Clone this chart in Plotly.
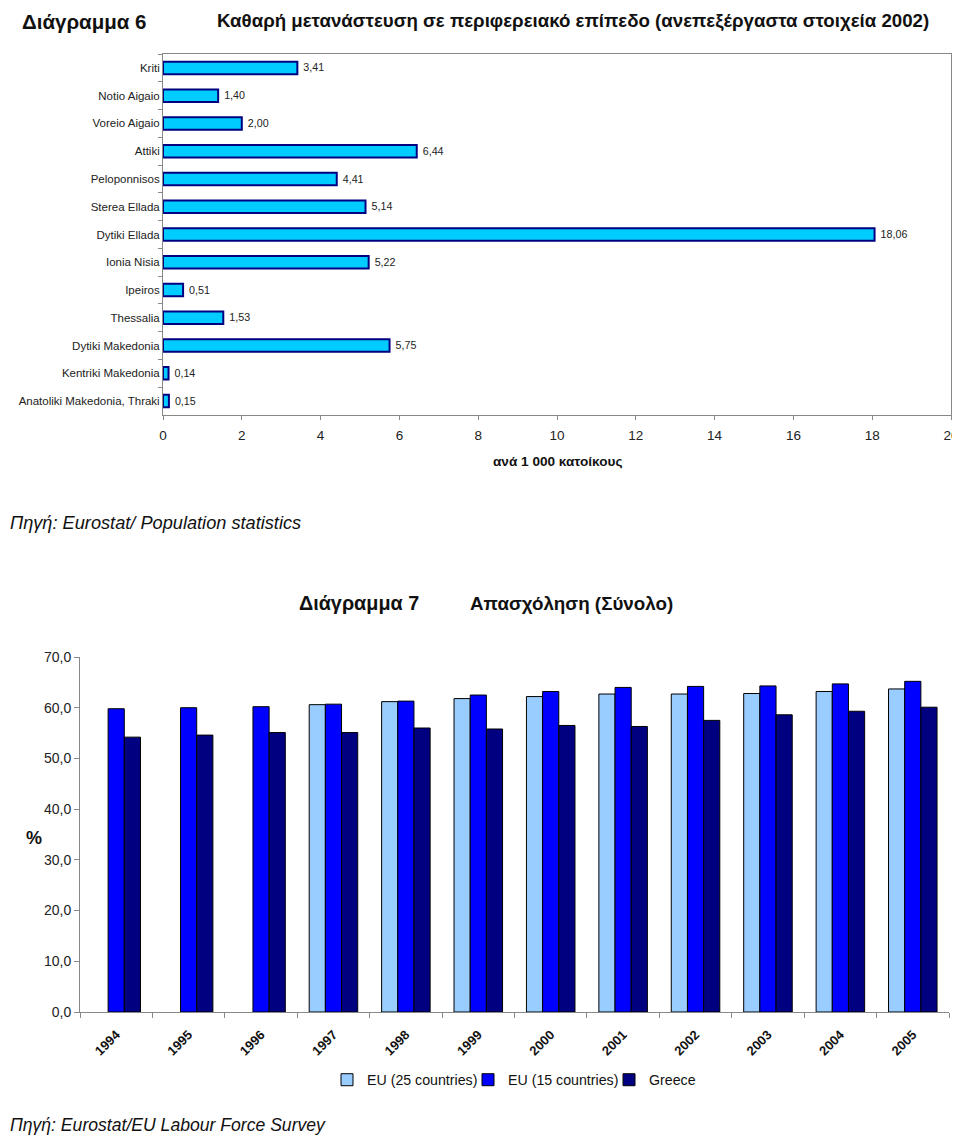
import plotly.graph_objects as go

# ---- Chart 6 data ----
regions = ["Kriti", "Notio Aigaio", "Voreio Aigaio", "Attiki", "Peloponnisos",
           "Sterea Ellada", "Dytiki Ellada", "Ionia Nisia", "Ipeiros", "Thessalia",
           "Dytiki Makedonia", "Kentriki Makedonia", "Anatoliki Makedonia, Thraki"]
migration = [3.41, 1.40, 2.00, 6.44, 4.41, 5.14, 18.06, 5.22, 0.51, 1.53, 5.75, 0.14, 0.15]

# ---- Chart 7 data ----
years = ["1994", "1995", "1996", "1997", "1998", "1999", "2000", "2001", "2002", "2003", "2004", "2005"]
eu25 = [None, None, None, 60.6, 61.2, 61.8, 62.2, 62.7, 62.7, 62.8, 63.2, 63.7]
eu15 = [59.8, 60.0, 60.2, 60.7, 61.3, 62.5, 63.2, 64.0, 64.2, 64.3, 64.7, 65.2]
greece = [54.2, 54.6, 55.1, 55.1, 56.0, 55.8, 56.5, 56.3, 57.5, 58.6, 59.3, 60.1]

OFF = 8  # page body margin
W, H = 960 - OFF, 1145 - 2 * OFF
def px(x): return (x - OFF) / W
def py(y): return 1 - (y - OFF) / H

ARIAL = "Liberation Sans, Arial, sans-serif"

fig = go.Figure()

fig.add_trace(go.Bar(
    x=migration, y=regions, orientation="h", width=0.45,
    marker=dict(color="#00CCFF", line=dict(color="#000080", width=2)),
    text=migration, texttemplate="\u00a0%{x:.2f}", textposition="outside",
    textfont=dict(family=ARIAL, size=12, color="#222"),
    cliponaxis=False, showlegend=False,
    xaxis="x", yaxis="y"))

fig.add_trace(go.Bar(x=years, y=eu25, name="EU (25 countries)",
                     marker=dict(color="#99CCFF", line=dict(color="#000", width=1)),
                     xaxis="x2", yaxis="y2"))
fig.add_trace(go.Bar(x=years, y=eu15, name="EU (15 countries)",
                     marker=dict(color="#0000FF", line=dict(color="#000", width=1)),
                     xaxis="x2", yaxis="y2"))
fig.add_trace(go.Bar(x=years, y=greece, name="Greece",
                     marker=dict(color="#000080", line=dict(color="#000", width=1)),
                     xaxis="x2", yaxis="y2"))

fig.update_layout(
    width=W, height=H, margin=dict(l=0, r=0, t=0, b=0, autoexpand=False),
    paper_bgcolor="white", plot_bgcolor="white",
    separators=", ",
    barmode="group", bargap=0.33, bargroupgap=0,
    font=dict(family=ARIAL, color="#222"),
    xaxis=dict(domain=[px(163), px(951)], range=[0, 20], dtick=2, tick0=0,
               showgrid=False, zeroline=False, showline=True, linecolor="#888",
               mirror=True, ticks="outside", ticklen=4, tickcolor="#888",
               automargin=False, ticklabelstandoff=4, ticklabeloverflow="allow",
               tickfont=dict(family=ARIAL, size=13.5, color="#222"), anchor="y"),
    yaxis=dict(domain=[py(415), py(54)], autorange="reversed", type="category",
               showgrid=False, showline=True, linecolor="#888", mirror=True,
               ticks="outside", ticklen=4, tickcolor="#888", tickson="boundaries",
               automargin=False,
               tickfont=dict(family=ARIAL, size=11.5, color="#222"), anchor="x"),
    xaxis2=dict(domain=[px(80), px(949)], type="category", showgrid=False,
                showline=True, linecolor="#888", ticks="outside", ticklen=5,
                tickcolor="#888", tickson="boundaries", tickangle=-45,
                automargin=False, ticklabelstandoff=9,
                tickfont=dict(family=ARIAL, size=13, color="#111", weight="bold"),
                anchor="y2"),
    yaxis2=dict(domain=[py(1012), py(657)], range=[0, 70], dtick=10,
                tickformat=".1f", showgrid=False, zeroline=False, showline=True,
                linecolor="#888", ticks="outside", ticklen=5, tickcolor="#888",
                automargin=False,
                tickfont=dict(family=ARIAL, size=14, color="#222"), anchor="x2"),
    legend=dict(orientation="h", x=px(327), y=py(1080), xanchor="left", yanchor="middle",
                font=dict(family=ARIAL, size=14.2, color="#111"), traceorder="normal",
                itemwidth=30, entrywidth=96, bgcolor="rgba(0,0,0,0)"),
)

annos = [
    dict(text="<b>Διάγραμμα 6</b>", x=px(20), y=1, yanchor="top", xanchor="left",
         font=dict(family=ARIAL, size=20.5, color="#111")),
    dict(text="<b>Καθαρή μετανάστευση σε περιφερειακό επίπεδο (ανεπεξέργαστα στοιχεία 2002)</b>",
         x=px(215), y=1, yanchor="top", xanchor="left",
         font=dict(family=ARIAL, size=18.7, color="#111")),
    dict(text="<b>ανά 1 000 κατοίκους</b>", x=px(558), y=py(462), xanchor="center",
         font=dict(family=ARIAL, size=13.6, color="#111")),
    dict(text="<i>Πηγή: Eurostat/ Population statistics</i>", x=px(8), y=py(523), xanchor="left",
         font=dict(family=ARIAL, size=18.2, color="#111")),
    dict(text="<b>Διάγραμμα 7</b>", x=px(297), y=py(603), xanchor="left",
         font=dict(family=ARIAL, size=19.8, color="#111")),
    dict(text="<b>Απασχόληση (Σύνολο)</b>", x=px(468), y=py(603), xanchor="left",
         font=dict(family=ARIAL, size=18.8, color="#111")),
    dict(text="<b>%</b>", x=px(34), y=py(838), xanchor="center",
         font=dict(family=ARIAL, size=18, color="#111")),
    dict(text="<i>Πηγή: Eurostat/EU Labour Force Survey</i>", x=px(8), y=0, yanchor="bottom",
         xanchor="left", font=dict(family=ARIAL, size=17.6, color="#111")),
]
for a in annos:
    a.setdefault("yanchor", "middle")
    fig.add_annotation(xref="paper", yref="paper", showarrow=False, **a)

fig.write_html("out.html")
